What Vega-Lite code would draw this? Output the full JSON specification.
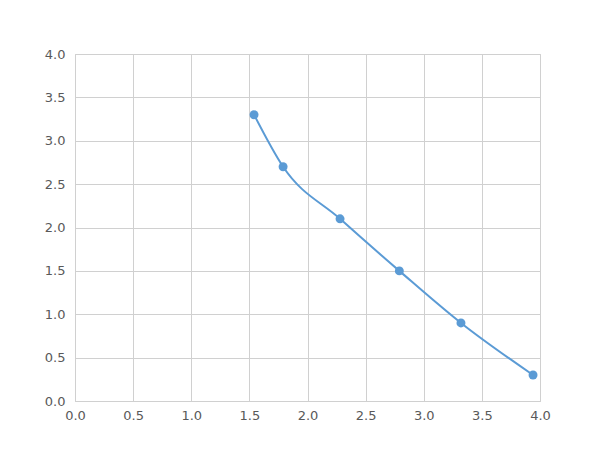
{
  "$schema": "https://vega.github.io/schema/vega-lite/v6.json",
  "autosize": "none",
  "width": 465,
  "height": 347,
  "padding": {"left": 75, "top": 54, "right": 60, "bottom": 49},
  "background": "white",
  "config": {"view": {"stroke": "#d0d0d0"}},
  "data": {"values": [
    {"x": 1.54, "y": 3.3},
    {"x": 1.79, "y": 2.7},
    {"x": 2.28, "y": 2.1},
    {"x": 2.79, "y": 1.5},
    {"x": 3.32, "y": 0.9},
    {"x": 3.94, "y": 0.3}
  ]},
  "encoding": {
    "x": {"field": "x", "type": "quantitative", "scale": {"domain": [0, 4], "nice": false},
      "axis": {"title": null, "values": [0,0.5,1,1.5,2,2.5,3,3.5,4], "format": ".1f", "ticks": false, "labelFlush": false, "domainColor": "#d0d0d0", "gridColor": "#d0d0d0", "labelColor": "#595959", "labelFont": "DejaVu Sans", "labelFontSize": 13, "labelPadding": 8}},
    "y": {"field": "y", "type": "quantitative", "scale": {"domain": [0, 4], "nice": false},
      "axis": {"title": null, "values": [0,0.5,1,1.5,2,2.5,3,3.5,4], "format": ".1f", "ticks": false, "labelFlush": false, "domainColor": "#d0d0d0", "gridColor": "#d0d0d0", "labelColor": "#595959", "labelFont": "DejaVu Sans", "labelFontSize": 13, "labelPadding": 10}}
  },
  "layer": [
    {"mark": {"type": "line", "interpolate": "monotone", "color": "#5B9BD5", "strokeWidth": 2}},
    {"mark": {"type": "point", "filled": true, "opacity": 1, "color": "#5B9BD5", "size": 80}}
  ]
}
